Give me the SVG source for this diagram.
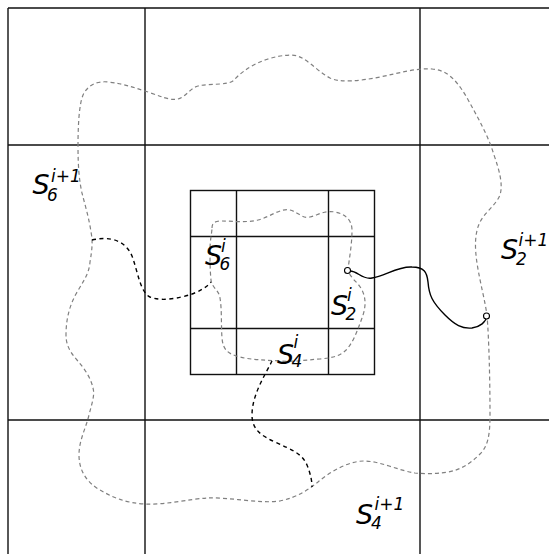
<svg xmlns="http://www.w3.org/2000/svg" width="549" height="554" viewBox="0 0 549 554">
<style>
.grid{stroke:#111;stroke-width:1.4;fill:none}
.gray{stroke:#808080;stroke-width:1.2;fill:none;stroke-dasharray:4,3}
.blk{stroke:#000;stroke-width:1.4;fill:none;stroke-dasharray:4,3.5}
.sol{stroke:#000;stroke-width:1.4;fill:none}
.pt{fill:#fff;stroke:#000;stroke-width:1.1}
.S{font-family:"DejaVu Sans",sans-serif;font-style:italic;font-size:27px;fill:#000}
.s{font-family:"DejaVu Sans",sans-serif;font-style:italic;font-size:17px;fill:#000}
</style>
<rect width="549" height="554" fill="#fff"/>
<g id="grid">
<path class="grid" d="M8,8H549M8,145H549M8,420H549M8,8V554M145,8V554M420,8V554"/>
<rect class="grid" x="190.5" y="190.5" width="184" height="184"/>
<path class="grid" d="M236.5,190.5V374.5M328.5,190.5V374.5M190.5,236.5H374.5M190.5,328.5H374.5"/>
</g>
<g id="connectors">
<path id="outer-loop" class="gray" d="M78,146 C78,118 80,100 84,93 C90,83 100,81 108,82 C125,84 135,88 148,92 C160,96 170,101 178,99 C186,97 190,88 198,86 C210,83 228,86 234,80 C245,68 265,56 291,55 C305,55 315,70 330,78 C340,83 360,81 380,77 C400,73 415,68 432,69 C446,70 455,78 466,96 C478,118 488,135 494,155 C500,172 503,185 500,195 C496,205 485,212 480,222 C475,232 475,245 476,255 C478,275 484,295 487,315 C489,340 490,380 490,415 C490,435 488,446 480,454 C470,464 460,470 448,472 C435,474 425,474 415,473 C400,471 380,461 364,461 C348,461 330,472 318,482 C308,490 298,497 280,501 C260,504 230,497 207,498 C190,499 165,505 145,504 C125,503 112,497 100,490 C86,482 79,470 79,455 C79,440 86,428 89,415 C92,403 95,395 93,388 C91,378 84,368 77,360 C70,352 66,345 66,335 C66,318 70,305 76,294 C82,283 89,275 90,262 C92,250 93,242 91,232 C89,218 85,205 82,193 C79,180 78,165 78,146 Z"/>
<path id="inner-loop" class="gray" d="M212,228 C212,222 216,221 222,221 C232,221 245,223 258,220 C270,217 280,208 290,210 C298,212 302,219 310,217 C318,215 325,210 335,212 C345,214 352,220 352,230 C352,245 349,260 348,270 C350,278 358,282 362,290 C367,300 365,310 362,318 C357,332 352,345 345,351 C338,357 330,358 320,359 C305,360 295,362 280,361 C265,360 252,360 240,357 C228,354 223,350 222,338 C221,325 222,310 220,298 C219,290 212,288 211,280 C210,270 210,260 210,250 C210,240 212,232 212,228 Z"/>
<path id="branch-left" class="blk" d="M92,240 C110,236 125,240 132,256 C138,272 140,292 150,297 C162,302 180,298 192,294 C200,291 207,287 211,282"/>
<path id="branch-bottom" class="blk" d="M272,361 C265,375 252,395 252,415 C252,430 262,436 275,442 C290,449 302,453 307,465 C311,475 312,482 312,487"/>
<path id="link" class="sol" d="M350,271 C358,271 362,280 372,278 C385,276 398,266 412,267 C424,267 427,272 428,282 C429,295 432,302 445,315 C455,325 462,329 472,328 C480,327 486,322 487,316"/>
<circle class="pt" cx="347.5" cy="270.5" r="3"/>
<circle class="pt" cx="486.5" cy="316" r="3"/>
</g>
<g id="S6-outer"><text class="S" x="32.5" y="193.5">S</text><text class="s" x="51" y="181.5">i+1</text><text class="s" x="47" y="201">6</text></g>
<g id="S2-outer"><text class="S" x="501" y="258.5">S</text><text class="s" x="518.5" y="246">i+1</text><text class="s" x="516" y="265">2</text></g>
<g id="S4-outer"><text class="S" x="356" y="523.5">S</text><text class="s" x="374.5" y="510">i+1</text><text class="s" x="371" y="529">4</text></g>
<g id="S6-inner"><text class="S" x="205" y="264.5">S</text><text class="s" x="221" y="251.5">i</text><text class="s" x="219.5" y="270">6</text></g>
<g id="S2-inner"><text class="S" x="331" y="314.5">S</text><text class="s" x="347" y="301">i</text><text class="s" x="345.5" y="320">2</text></g>
<g id="S4-inner"><text class="S" x="277" y="363.5">S</text><text class="s" x="293.5" y="348">i</text><text class="s" x="291.5" y="366.5">4</text></g>
</svg>
